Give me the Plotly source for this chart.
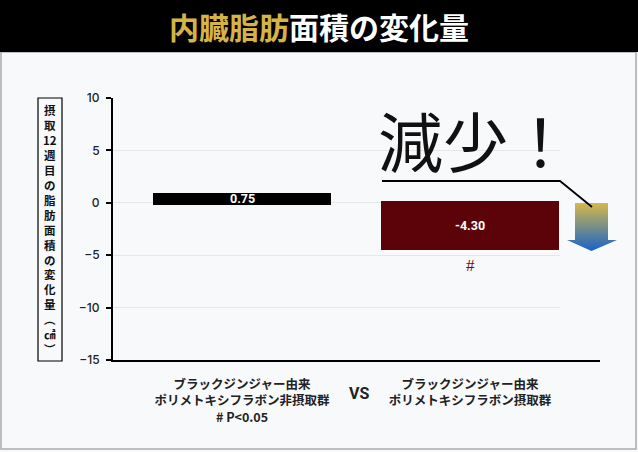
import plotly.graph_objects as go

# データ
groups = [
    "ブラックジンジャー由来<br>ポリメトキシフラボン非摂取群<br># P&lt;0.05",
    "ブラックジンジャー由来<br>ポリメトキシフラボン摂取群",
]
values = [0.75, -4.30]
bar_colors = ["#000000", "#5C0309"]
y_ticks = [10, 5, 0, -5, -10, -15]
y_title = ["摂", "取", "12", "週", "目", "の", "脂", "肪", "面", "積", "の", "変", "化", "量", "︵", "㎠", "︶"]

# ページ寸法と余白（px）
W, H = 638, 452
L, R, T, B = 113, 10, 98, 92
PW = W - L - R
PH = H - T - B


def px(x):
    return (x - L) / PW


def py(y):
    return (H - B - y) / PH


fig = go.Figure()

fig.add_trace(go.Bar(
    x=[0, 1], y=values, width=0.765,
    marker=dict(color=bar_colors, line=dict(color=bar_colors, width=4)),
    hoverinfo="skip", showlegend=False,
))

# 減少の矢印（装飾）: 右側の小さな座標系に描く
arrow_x = [575, 608, 608, 617, 591.5, 567, 575, 575]
arrow_y = [157, 157, 120, 120, 109, 120, 120, 157]
fig.add_trace(go.Scatter(
    x=arrow_x, y=arrow_y, xaxis="x2", yaxis="y2",
    mode="lines", fill="toself", line=dict(width=0),
    fillgradient=dict(type="vertical", colorscale=[[0, "#1763C8"], [1, "#D6B84A"]]),
    hoverinfo="skip", showlegend=False,
))

tick_font = dict(family="Inter, Roboto, sans-serif", size=12, color="#222222", weight=500)
jp = "Noto Sans CJK JP, sans-serif"

fig.update_layout(
    width=W, height=H,
    margin=dict(l=L, r=R, t=T, b=B),
    paper_bgcolor="#F8F9FB",
    plot_bgcolor="#F8F9FB",
    xaxis=dict(
        domain=[0, px(600)], range=[-0.566, 1.570],
        tickvals=[0, 1], ticktext=["<b>%s</b>" % g for g in groups],
        tickfont=dict(family=jp, size=12.5, color="#222222"),
        ticks="", ticklabelstandoff=12,
        showline=True, linecolor="#000000", linewidth=2,
        showgrid=False, zeroline=False, fixedrange=True,
    ),
    yaxis=dict(
        range=[-15, 10], tickvals=y_ticks, tickfont=tick_font,
        ticks="outside", ticklen=5, tickwidth=1.5, tickcolor="#000000",
        ticklabelstandoff=4,
        showline=True, linecolor="#000000", linewidth=2,
        showgrid=True, gridcolor="#E6E6E6", gridwidth=1,
        zeroline=False, fixedrange=True,
    ),
    xaxis2=dict(domain=[px(560), 1], range=[560, 628], anchor="y2", visible=False, fixedrange=True),
    yaxis2=dict(domain=[0, 1], range=[0, PH], anchor="x2", visible=False, fixedrange=True),
    bargap=0,
    hovermode=False,
)

shapes = [
    # パネル枠
    dict(type="rect", xref="paper", yref="paper", x0=px(1), x1=px(636), y0=py(449), y1=py(52),
         line=dict(color="#ABABAB", width=1.5), fillcolor="rgba(0,0,0,0)", layer="below"),
    # 見出し帯
    dict(type="rect", xref="paper", yref="paper", x0=px(0), x1=px(W), y0=py(52), y1=py(0),
         line=dict(width=0), fillcolor="#000000"),
    # 縦軸タイトルの枠
    dict(type="rect", xref="paper", yref="paper", x0=px(38), x1=px(62), y0=py(361), y1=py(98),
         line=dict(color="#000000", width=1.2), fillcolor="rgba(0,0,0,0)"),
    # 引き出し線
    dict(type="path", xref="paper", yref="paper",
         path="M %f %f L %f %f L %f %f" % (px(382), py(181), px(560), py(181), px(592), py(207)),
         line=dict(color="#000000", width=1.8)),
]
fig.update_layout(shapes=shapes)

center = dict(xref="paper", yref="paper", xanchor="center", yanchor="middle", showarrow=False)
annotations = [
    dict(text="<span style='color:#D4B347'>内臓脂肪</span>面積の変化量",
         x=px(319), y=py(26), font=dict(family=jp, size=30, color="#FFFFFF", weight=700), **center),
    dict(text="<br>".join(y_title), x=px(50), y=py(229),
         font=dict(family=jp, size=11.5, color="#111111", weight=700), **center),
    dict(text="<b>VS</b>", x=px(359), y=py(393),
         font=dict(family="Roboto, sans-serif", size=16, color="#222222"), **center),
    dict(text="減少！", x=px(475), y=py(139),
         font=dict(family=jp, size=65, color="#111111", weight=400), **center),
    dict(text="#", x=1, y=values[1], yanchor="top", yshift=-6, showarrow=False,
         font=dict(family="Liberation Serif, serif", size=17, color="#6B0A10")),
]
for i, v in enumerate(values):
    annotations.append(dict(
        text="<b>%.2f</b>" % v, x=i, y=v / 2, showarrow=False,
        font=dict(family="Roboto, sans-serif", size=12.5, color="#FFFFFF"),
    ))
fig.update_layout(annotations=annotations)

fig.write_html("out.html", config={"displayModeBar": False},
               post_script="document.body.style.margin='0';")
